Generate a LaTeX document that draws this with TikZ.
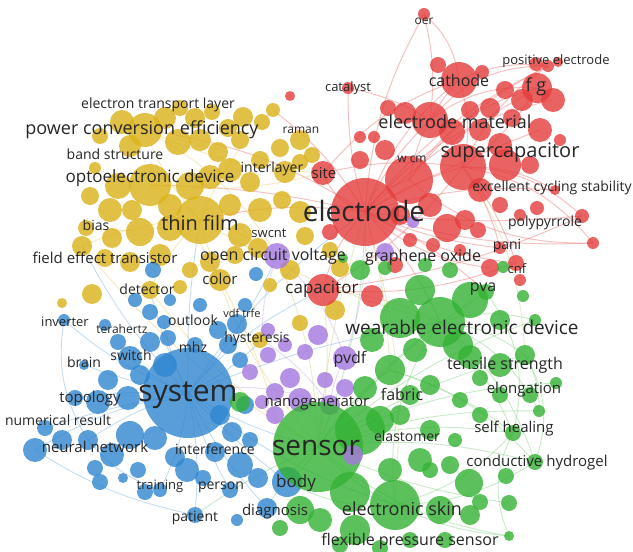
\documentclass[tikz,border=0pt]{standalone}
\usepackage{fontspec}
\setmainfont{Open Sans}
\definecolor{vosred}{HTML}{E43C3C}
\definecolor{vosyellow}{HTML}{DBB31C}
\definecolor{vosblue}{HTML}{2F86D0}
\definecolor{vosgreen}{HTML}{33B233}
\definecolor{vospurple}{HTML}{A67AE0}
\tikzset{
	kw/.style={font=\fontsize{#1}{#1}\selectfont, text=black!85, inner sep=0pt},
	rb/.style={fill=vosred, fill opacity=.8},
	yb/.style={fill=vosyellow, fill opacity=.82},
	bb/.style={fill=vosblue, fill opacity=.8},
	gb/.style={fill=vosgreen, fill opacity=.8},
	pb/.style={fill=vospurple, fill opacity=.82},
	rl/.style={draw=vosred!70, draw opacity=.45, line width=1pt},
	yl/.style={draw=vosyellow!70, draw opacity=.4, line width=.9pt},
	ml/.style={draw=olive!50, draw opacity=.35, line width=.9pt},
	bl/.style={draw=vosblue!70, draw opacity=.4, line width=.9pt},
	gl/.style={draw=vosgreen!60, draw opacity=.45, line width=.9pt},
	pl/.style={draw=vospurple!70, draw opacity=.4, line width=.9pt}
}
\begin{document}
\begin{tikzpicture}[x=1pt, y=-1pt]
	\useasboundingbox (0, 0) rectangle (633, 552);
	% hubs and leaves
	\coordinate (electrode) at (365, 212);
	\coordinate (oer) at (424, 14);
	\coordinate (catalyst) at (348, 88);
	\coordinate (cathode) at (459, 80);
	\coordinate (posel) at (548, 66);
	\coordinate (fg) at (537, 88);
	\coordinate (fg2) at (553, 100);
	\coordinate (elmat) at (430, 120);
	\coordinate (rside) at (540, 130);
	\coordinate (supercap) at (463, 167);
	\coordinate (wcm) at (409, 180);
	\coordinate (ecs) at (555, 190);
	\coordinate (ppy) at (582, 216);
	\coordinate (ppy2) at (593, 243);
	\coordinate (pani) at (500, 248);
	\coordinate (cnf) at (516, 263);
	\coordinate (rlow) at (490, 268);
	\coordinate (capacitor) at (323, 290);
	\coordinate (site) at (323, 173);
	\coordinate (thinfilm) at (200, 220);
	\coordinate (pce) at (145, 130);
	\coordinate (opto) at (150, 185);
	\coordinate (etl) at (273, 110);
	\coordinate (bias) at (86, 228);
	\coordinate (fet) at (82, 246);
	\coordinate (detector) at (150, 290);
	\coordinate (color) at (220, 280);
	\coordinate (ocv) at (277, 256);
	\coordinate (system) at (188, 393);
	\coordinate (inverter) at (64, 320);
	\coordinate (brain) at (84, 365);
	\coordinate (topology) at (75, 398);
	\coordinate (numres) at (35, 450);
	\coordinate (numres2) at (45, 428);
	\coordinate (neural) at (88, 440);
	\coordinate (training) at (160, 490);
	\coordinate (patient) at (195, 515);
	\coordinate (person) at (230, 490);
	\coordinate (diagnosis) at (267, 508);
	\coordinate (body) at (287, 482);
	\coordinate (switch) at (130, 358);
	\coordinate (outlook) at (164, 322);
	\coordinate (sensor) at (318, 447);
	\coordinate (wearable) at (440, 322);
	\coordinate (gside) at (535, 320);
	\coordinate (tensile) at (525, 355);
	\coordinate (elong) at (539, 411);
	\coordinate (elong2) at (556, 383);
	\coordinate (healing) at (513, 433);
	\coordinate (hydrogel) at (535, 462);
	\coordinate (eskin) at (395, 505);
	\coordinate (gend) at (509, 503);
	\coordinate (fps) at (509, 536);
	\coordinate (fabric) at (390, 370);
	\coordinate (pva) at (486, 292);
	\coordinate (pvdf) at (345, 358);
	\coordinate (nanogen) at (330, 405);
	\coordinate (hyst) at (262, 340);
	% links
	\draw[rl] (electrode) to[bend left=12] (oer);
	\draw[rl] (cathode) to[bend right=20] (oer);
	\draw[rl] (elmat) to[bend right=10] (oer);
	\draw[rl] (electrode) to[bend left=8] (catalyst);
	\draw[rl] (catalyst) to[bend left=10] (elmat);
	\draw[rl] (electrode) to[bend left=15] (cathode);
	\draw[rl] (electrode) to[bend left=10] (elmat);
	\draw[rl] (electrode) to[bend left=12] (posel);
	\draw[rl] (electrode) to[bend left=6] (fg);
	\draw[rl] (electrode) to[bend left=18] (fg2);
	\draw[rl] (electrode) to[bend left=4] (rside);
	\draw[rl] (electrode) to[bend left=8] (supercap);
	\draw[rl] (electrode) to[bend left=20] (wcm);
	\draw[rl] (electrode) to[bend left=10] (ecs);
	\draw[rl] (electrode) to[bend right=6] (ppy);
	\draw[rl] (electrode) to[bend right=10] (ppy2);
	\draw[rl] (electrode) to[bend right=8] (pani);
	\draw[rl] (electrode) to[bend right=12] (cnf);
	\draw[rl] (electrode) to[bend right=16] (rlow);
	\draw[rl] (electrode) to[bend right=15] (capacitor);
	\draw[rl] (electrode) to[bend left=25] (site);
	\draw[rl] (electrode) to[bend right=10] (thinfilm);
	\draw[rl] (electrode) to[bend right=12] (pce);
	\draw[rl] (electrode) to[bend right=6] (opto);
	\draw[rl] (electrode) to[bend right=10] (etl);
	\draw[rl] (electrode) to[bend left=10] (wearable);
	\draw[rl] (electrode) to[bend left=8] (pva);
	\draw[rl] (supercap) to[bend left=15] (posel);
	\draw[rl] (supercap) to[bend right=10] (fg);
	\draw[rl] (supercap) to[bend left=20] (ppy);
	\draw[rl] (supercap) to[bend left=15] (ecs);
	\draw[rl] (supercap) to[bend left=10] (cnf);
	\draw[rl] (supercap) to[bend left=20] (ppy2);
	\draw[rl] (supercap) to[bend right=15] (cathode);
	\draw[rl] (supercap) to[bend left=10] (pani);
	\draw[rl] (supercap) to[bend right=20] (elmat);
	\draw[rl] (elmat) to[bend left=20] (fg);
	\draw[rl] (elmat) to[bend left=25] (posel);
	\draw[rl] (cathode) to[bend left=15] (posel);
	\draw[rl] (wcm) to[bend left=20] (fg);
	\draw[rl] (wcm) to[bend left=12] (posel);
	\draw[rl] (wcm) to[bend left=15] (cathode);
	\draw[rl] (wcm) to[bend right=20] (ppy2);
	\draw[rl] (site) to[bend left=10] (supercap);
	\draw[rl] (site) to[bend left=15] (cathode);
	\draw[rl] (capacitor) to[bend right=10] (supercap);
	\draw[rl] (capacitor) to[bend right=8] (ppy);
	\draw[rl] (capacitor) to[bend right=12] (cnf);
	\draw[ml] (electrode) to[bend left=10] (eskin);
	\draw[ml] (electrode) to[bend left=6] (fabric);
	\draw[ml] (electrode) to[bend right=6] (sensor);
	\draw[ml] (thinfilm) to[bend right=8] (wearable);
	\draw[ml] (capacitor) to[bend left=8] (sensor);
	\draw[ml] (capacitor) to[bend left=10] (wearable);
	\draw[ml] (ocv) to[bend left=10] (sensor);
	\draw[ml] (supercap) to[bend left=15] (tensile);
	\draw[yl] (thinfilm) to[bend left=10] (pce);
	\draw[yl] (thinfilm) to[bend right=10] (opto);
	\draw[yl] (thinfilm) to[bend left=10] (etl);
	\draw[yl] (thinfilm) to[bend right=10] (fet);
	\draw[yl] (thinfilm) to[bend left=10] (bias);
	\draw[yl] (thinfilm) to[bend left=10] (ocv);
	\draw[yl] (thinfilm) to[bend right=12] (sensor);
	\draw[yl] (thinfilm) to[bend right=10] (detector);
	\draw[yl] (opto) to[bend left=10] (color);
	\draw[yl] (opto) to[bend right=10] (site);
	\draw[yl] (pce) to[bend left=15] (ocv);
	\draw[yl] (pce) to[bend right=10] (site);
	\draw[yl] (fet) to[bend right=10] (sensor);
	\draw[yl] (color) to[bend left=10] (body);
	\draw[yl] (detector) to[bend right=10] (sensor);
	\draw[bl] (system) to[bend left=10] (inverter);
	\draw[bl] (system) to[bend left=5] (brain);
	\draw[bl] (system) to[bend right=5] (topology);
	\draw[bl] (system) to[bend right=10] (numres);
	\draw[bl] (system) to[bend right=4] (numres2);
	\draw[bl] (system) to[bend right=8] (neural);
	\draw[bl] (system) to[bend left=10] (training);
	\draw[bl] (system) to[bend left=8] (patient);
	\draw[bl] (system) to[bend right=6] (person);
	\draw[bl] (system) to[bend right=8] (diagnosis);
	\draw[bl] (system) to[bend right=4] (body);
	\draw[bl] (system) to[bend left=10] (switch);
	\draw[bl] (system) to[bend left=8] (outlook);
	\draw[bl] (system) to[bend left=6] (detector);
	\draw[bl] (system) to[bend left=5] (thinfilm);
	\draw[bl] (system) to[bend left=8] (fet);
	\draw[bl] (system) to[bend left=10] (electrode);
	\draw[bl] (system) to[bend right=8] (ocv);
	\draw[bl] (system) to[bend right=8] (hyst);
	\draw[bl] (system) to[bend right=8] (sensor);
	\draw[bl] (system) to[bend left=6] (wearable);
	\draw[bl] (system) to[bend left=12] (capacitor);
	\draw[bl] (system) to[bend right=10] (eskin);
	\draw[bl] (inverter) to[bend right=20] (neural);
	\draw[bl] (numres) to[bend right=10] (patient);
	\draw[bl] (neural) to[bend right=15] (training);
	\draw[gl] (sensor) to[bend right=10] (eskin);
	\draw[gl] (sensor) to[bend right=15] (fps);
	\draw[gl] (sensor) to[bend right=8] (gend);
	\draw[gl] (sensor) to[bend left=10] (hydrogel);
	\draw[gl] (sensor) to[bend left=12] (healing);
	\draw[gl] (sensor) to[bend left=10] (elong);
	\draw[gl] (sensor) to[bend left=12] (elong2);
	\draw[gl] (sensor) to[bend left=8] (tensile);
	\draw[gl] (sensor) to[bend left=10] (gside);
	\draw[gl] (sensor) to[bend left=5] (wearable);
	\draw[gl] (sensor) to[bend left=10] (fabric);
	\draw[gl] (sensor) to[bend left=10] (body);
	\draw[gl] (sensor) to[bend left=10] (pva);
	\draw[gl] (sensor) to[bend right=10] (diagnosis);
	\draw[gl] (sensor) to[bend right=6] (patient);
	\draw[gl] (sensor) to[bend right=10] (electrode);
	\draw[gl] (wearable) to[bend left=15] (tensile);
	\draw[gl] (wearable) to[bend left=20] (elong);
	\draw[gl] (wearable) to[bend left=10] (healing);
	\draw[gl] (wearable) to[bend left=15] (hydrogel);
	\draw[gl] (wearable) to[bend left=15] (gside);
	\draw[gl] (wearable) to[bend right=20] (eskin);
	\draw[gl] (tensile) to[bend left=25] (hydrogel);
	\draw[gl] (tensile) to[bend left=15] (elong);
	\draw[gl] (healing) to[bend right=25] (fps);
	\draw[gl] (hydrogel) to[bend left=15] (eskin);
	\draw[gl] (eskin) to[bend right=15] (healing);
	\draw[gl] (eskin) to[bend right=10] (fps);
	\draw[gl] (body) to[bend right=15] (eskin);
	\draw[gl] (fabric) to[bend left=10] (healing);
	\draw[gl] (fabric) to[bend left=15] (hydrogel);
	\draw[gl] (pva) to[bend left=25] (healing);
	\draw[pl] (nanogen) to[bend left=10] (pvdf);
	\draw[pl] (nanogen) to[bend right=10] (hyst);
	\draw[pl] (pvdf) to[bend right=15] (ocv);
	\draw[pl] (nanogen) to[bend right=15] (system);
	\draw[pl] (pvdf) to[bend right=10] (electrode);
	\draw[pl] (hyst) to[bend left=10] (ocv);
	% yellow bubbles
	\fill[yb] (273, 110) circle[radius=7];
	\fill[yb] (262, 122) circle[radius=8];
	\fill[yb] (243, 117) circle[radius=10];
	\fill[yb] (228, 128) circle[radius=9];
	\fill[yb] (212, 112) circle[radius=8];
	\fill[yb] (195, 118) circle[radius=10];
	\fill[yb] (180, 108) circle[radius=8];
	\fill[yb] (165, 118) circle[radius=11];
	\fill[yb] (145, 130) circle[radius=17];
	\fill[yb] (122, 122) circle[radius=12];
	\fill[yb] (130, 146) circle[radius=11];
	\fill[yb] (100, 136) circle[radius=8];
	\fill[yb] (178, 142) circle[radius=13];
	\fill[yb] (200, 140) circle[radius=11];
	\fill[yb] (218, 152) circle[radius=10];
	\fill[yb] (240, 140) circle[radius=9];
	\fill[yb] (280, 148) circle[radius=9];
	\fill[yb] (300, 140) circle[radius=10];
	\fill[yb] (312, 155) circle[radius=8];
	\fill[yb] (285, 172) circle[radius=11];
	\fill[yb] (300, 162) circle[radius=8];
	\fill[yb] (260, 160) circle[radius=9];
	\fill[yb] (250, 182) circle[radius=10];
	\fill[yb] (230, 170) circle[radius=12];
	\fill[yb] (210, 177) circle[radius=12];
	\fill[yb] (190, 186) circle[radius=14];
	\fill[yb] (150, 185) circle[radius=21];
	\fill[yb] (118, 186) circle[radius=13];
	\fill[yb] (95, 168) circle[radius=6];
	\fill[yb] (90, 196) circle[radius=9];
	\fill[yb] (110, 210) circle[radius=12];
	\fill[yb] (132, 210) circle[radius=10];
	\fill[yb] (170, 206) circle[radius=12];
	\fill[yb] (200, 220) circle[radius=24];
	\fill[yb] (170, 228) circle[radius=13];
	\fill[yb] (140, 232) circle[radius=14];
	\fill[yb] (112, 238) circle[radius=10];
	\fill[yb] (86, 228) circle[radius=8];
	\fill[yb] (82, 246) circle[radius=10];
	\fill[yb] (105, 258) circle[radius=9];
	\fill[yb] (130, 262) circle[radius=10];
	\fill[yb] (160, 255) circle[radius=11];
	\fill[yb] (230, 205) circle[radius=11];
	\fill[yb] (260, 210) circle[radius=12];
	\fill[yb] (282, 200) circle[radius=9];
	\fill[yb] (300, 212) circle[radius=11];
	\fill[yb] (305, 236) circle[radius=9];
	\fill[yb] (240, 235) circle[radius=12];
	\fill[yb] (235, 255) circle[radius=9];
	\fill[yb] (258, 248) circle[radius=10];
	\fill[yb] (210, 262) circle[radius=10];
	\fill[yb] (220, 280) circle[radius=11];
	\fill[yb] (190, 270) circle[radius=8];
	\fill[yb] (180, 287) circle[radius=7];
	\fill[yb] (150, 290) circle[radius=9];
	\fill[yb] (92, 294) circle[radius=10];
	\fill[yb] (62, 303) circle[radius=5];
	\fill[yb] (290, 270) circle[radius=10];
	\fill[yb] (330, 250) circle[radius=8];
	\fill[yb] (340, 268) circle[radius=9];
	\fill[yb] (335, 310) circle[radius=10];
	\fill[yb] (300, 323) circle[radius=8];
	\fill[yb] (260, 340) circle[radius=8];
	\fill[yb] (270, 285) circle[radius=7];
	% red bubbles
	\fill[rb] (424, 14) circle[radius=6];
	\fill[rb] (348, 88) circle[radius=6];
	\fill[rb] (290, 96) circle[radius=5];
	\fill[rb] (360, 137) circle[radius=6];
	\fill[rb] (374, 137) circle[radius=6];
	\fill[rb] (438, 65) circle[radius=8];
	\fill[rb] (459, 80) circle[radius=18];
	\fill[rb] (482, 72) circle[radius=7];
	\fill[rb] (536, 64) circle[radius=7];
	\fill[rb] (548, 66) circle[radius=6];
	\fill[rb] (558, 62) circle[radius=5];
	\fill[rb] (505, 90) circle[radius=9];
	\fill[rb] (522, 100) circle[radius=11];
	\fill[rb] (537, 88) circle[radius=15];
	\fill[rb] (553, 100) circle[radius=12];
	\fill[rb] (490, 108) circle[radius=10];
	\fill[rb] (512, 118) circle[radius=9];
	\fill[rb] (470, 110) circle[radius=9];
	\fill[rb] (430, 120) circle[radius=18];
	\fill[rb] (405, 113) circle[radius=11];
	\fill[rb] (388, 108) circle[radius=8];
	\fill[rb] (452, 132) circle[radius=13];
	\fill[rb] (480, 130) circle[radius=11];
	\fill[rb] (540, 130) circle[radius=12];
	\fill[rb] (560, 140) circle[radius=6];
	\fill[rb] (500, 145) circle[radius=12];
	\fill[rb] (463, 167) circle[radius=23];
	\fill[rb] (505, 165) circle[radius=16];
	\fill[rb] (530, 165) circle[radius=9];
	\fill[rb] (480, 190) circle[radius=12];
	\fill[rb] (409, 180) circle[radius=24];
	\fill[rb] (430, 205) circle[radius=12];
	\fill[rb] (447, 228) circle[radius=14];
	\fill[rb] (465, 220) circle[radius=10];
	\fill[rb] (400, 215) circle[radius=10];
	\fill[rb] (433, 245) circle[radius=7];
	\fill[rb] (500, 205) circle[radius=8];
	\fill[rb] (520, 215) circle[radius=6];
	\fill[rb] (555, 190) circle[radius=5];
	\fill[rb] (537, 208) circle[radius=7];
	\fill[rb] (582, 216) circle[radius=7];
	\fill[rb] (593, 243) circle[radius=6];
	\fill[rb] (500, 248) circle[radius=6];
	\fill[rb] (516, 263) circle[radius=8];
	\fill[rb] (490, 268) circle[radius=9];
	\fill[rb] (520, 280) circle[radius=6];
	\fill[rb] (385, 150) circle[radius=10];
	\fill[rb] (360, 160) circle[radius=9];
	\fill[rb] (323, 173) circle[radius=12];
	\fill[rb] (365, 212) circle[radius=34];
	\fill[rb] (372, 296) circle[radius=11];
	\fill[rb] (323, 290) circle[radius=16];
	\fill[rb] (395, 265) circle[radius=8];
	\fill[rb] (410, 240) circle[radius=7];
	\fill[rb] (330, 232) circle[radius=8];
	\fill[rb] (460, 250) circle[radius=6];
	\fill[rb] (478, 230) circle[radius=8];
	% purple bubbles
	\fill[pb] (277, 256) circle[radius=13];
	\fill[pb] (385, 252) circle[radius=9];
	\fill[pb] (413, 222) circle[radius=6];
	\fill[pb] (318, 335) circle[radius=10];
	\fill[pb] (305, 352) circle[radius=8];
	\fill[pb] (345, 358) circle[radius=12];
	\fill[pb] (290, 378) circle[radius=10];
	\fill[pb] (300, 400) circle[radius=12];
	\fill[pb] (275, 392) circle[radius=9];
	\fill[pb] (268, 355) circle[radius=8];
	\fill[pb] (268, 330) circle[radius=7];
	\fill[pb] (330, 405) circle[radius=10];
	\fill[pb] (345, 388) circle[radius=9];
	\fill[pb] (325, 380) circle[radius=8];
	\fill[pb] (275, 415) circle[radius=9];
	\fill[pb] (262, 402) circle[radius=7];
	\fill[pb] (250, 372) circle[radius=8];
	\fill[pb] (285, 345) circle[radius=7];
	% blue bubbles
	\fill[bb] (188, 393) circle[radius=45];
	\fill[bb] (153, 270) circle[radius=8];
	\fill[bb] (256, 274) circle[radius=7];
	\fill[bb] (135, 300) circle[radius=7];
	\fill[bb] (150, 312) circle[radius=8];
	\fill[bb] (164, 322) circle[radius=7];
	\fill[bb] (170, 300) circle[radius=6];
	\fill[bb] (200, 305) circle[radius=7];
	\fill[bb] (64, 320) circle[radius=6];
	\fill[bb] (105, 325) circle[radius=6];
	\fill[bb] (118, 342) circle[radius=8];
	\fill[bb] (130, 358) circle[radius=12];
	\fill[bb] (150, 342) circle[radius=10];
	\fill[bb] (168, 338) circle[radius=8];
	\fill[bb] (195, 345) circle[radius=8];
	\fill[bb] (218, 330) circle[radius=9];
	\fill[bb] (237, 324) circle[radius=10];
	\fill[bb] (245, 305) circle[radius=7];
	\fill[bb] (228, 345) circle[radius=9];
	\fill[bb] (84, 365) circle[radius=5];
	\fill[bb] (108, 380) circle[radius=10];
	\fill[bb] (98, 402) circle[radius=12];
	\fill[bb] (128, 398) circle[radius=12];
	\fill[bb] (140, 375) circle[radius=10];
	\fill[bb] (75, 398) circle[radius=8];
	\fill[bb] (45, 428) circle[radius=8];
	\fill[bb] (62, 440) circle[radius=10];
	\fill[bb] (35, 450) circle[radius=12];
	\fill[bb] (88, 440) circle[radius=10];
	\fill[bb] (112, 455) circle[radius=12];
	\fill[bb] (130, 435) circle[radius=14];
	\fill[bb] (95, 468) circle[radius=8];
	\fill[bb] (100, 482) circle[radius=8];
	\fill[bb] (123, 478) circle[radius=5];
	\fill[bb] (138, 470) circle[radius=8];
	\fill[bb] (145, 492) circle[radius=8];
	\fill[bb] (175, 457) circle[radius=10];
	\fill[bb] (187, 470) circle[radius=12];
	\fill[bb] (203, 478) circle[radius=8];
	\fill[bb] (215, 452) circle[radius=10];
	\fill[bb] (240, 465) circle[radius=13];
	\fill[bb] (258, 478) circle[radius=10];
	\fill[bb] (230, 490) circle[radius=8];
	\fill[bb] (160, 490) circle[radius=7];
	\fill[bb] (195, 515) circle[radius=8];
	\fill[bb] (237, 520) circle[radius=6];
	\fill[bb] (287, 482) circle[radius=15];
	\fill[bb] (267, 508) circle[radius=10];
	\fill[bb] (232, 432) circle[radius=10];
	\fill[bb] (245, 405) circle[radius=9];
	\fill[bb] (155, 438) circle[radius=12];
	\fill[bb] (220, 415) circle[radius=10];
	\fill[bb] (165, 365) circle[radius=12];
	\fill[bb] (240, 360) circle[radius=8];
	\fill[bb] (250, 440) circle[radius=8];
	% green bubbles
	\fill[gb] (318, 447) circle[radius=45];
	\fill[gb] (360, 430) circle[radius=25];
	\fill[gb] (440, 322) circle[radius=25];
	\fill[gb] (400, 318) circle[radius=20];
	\fill[gb] (470, 300) circle[radius=18];
	\fill[gb] (420, 290) circle[radius=15];
	\fill[gb] (458, 345) circle[radius=15];
	\fill[gb] (360, 270) circle[radius=10];
	\fill[gb] (343, 258) circle[radius=5];
	\fill[gb] (385, 268) circle[radius=7];
	\fill[gb] (425, 265) circle[radius=7];
	\fill[gb] (450, 270) circle[radius=8];
	\fill[gb] (486, 292) circle[radius=8];
	\fill[gb] (503, 267) circle[radius=6];
	\fill[gb] (523, 296) circle[radius=6];
	\fill[gb] (535, 320) circle[radius=6];
	\fill[gb] (500, 320) circle[radius=10];
	\fill[gb] (372, 340) circle[radius=12];
	\fill[gb] (415, 350) circle[radius=12];
	\fill[gb] (470, 357) circle[radius=12];
	\fill[gb] (500, 365) circle[radius=12];
	\fill[gb] (525, 355) circle[radius=10];
	\fill[gb] (556, 383) circle[radius=6];
	\fill[gb] (480, 378) circle[radius=8];
	\fill[gb] (500, 395) circle[radius=8];
	\fill[gb] (530, 395) circle[radius=8];
	\fill[gb] (539, 411) circle[radius=6];
	\fill[gb] (390, 370) circle[radius=15];
	\fill[gb] (365, 388) circle[radius=12];
	\fill[gb] (410, 395) circle[radius=10];
	\fill[gb] (400, 415) circle[radius=10];
	\fill[gb] (430, 385) circle[radius=10];
	\fill[gb] (460, 400) circle[radius=8];
	\fill[gb] (380, 420) circle[radius=14];
	\fill[gb] (430, 430) circle[radius=10];
	\fill[gb] (455, 440) circle[radius=7];
	\fill[gb] (480, 415) circle[radius=8];
	\fill[gb] (513, 433) circle[radius=8];
	\fill[gb] (535, 462) circle[radius=8];
	\fill[gb] (506, 476) circle[radius=8];
	\fill[gb] (469, 483) circle[radius=14];
	\fill[gb] (480, 502) circle[radius=8];
	\fill[gb] (420, 460) circle[radius=12];
	\fill[gb] (390, 470) circle[radius=12];
	\fill[gb] (450, 465) circle[radius=9];
	\fill[gb] (430, 470) circle[radius=8];
	\fill[gb] (395, 505) circle[radius=25];
	\fill[gb] (350, 492) circle[radius=20];
	\fill[gb] (440, 510) circle[radius=14];
	\fill[gb] (470, 515) circle[radius=10];
	\fill[gb] (509, 503) circle[radius=8];
	\fill[gb] (355, 530) circle[radius=15];
	\fill[gb] (320, 520) circle[radius=12];
	\fill[gb] (300, 510) circle[radius=14];
	\fill[gb] (280, 528) circle[radius=8];
	\fill[gb] (340, 545) circle[radius=8];
	\fill[gb] (380, 548) circle[radius=8];
	\fill[gb] (410, 540) circle[radius=8];
	\fill[gb] (445, 540) circle[radius=8];
	\fill[gb] (509, 536) circle[radius=5];
	\fill[gb] (240, 402) circle[radius=10];
	\fill[pb] (353, 455) circle[radius=10];
	% labels
	\node[kw=12] (txt-oer) at (424, 21) {oer};
	\node[kw=13] (txt-posel) at (556, 61) {positive electrode};
	\node[kw=16] (txt-cathode) at (459, 80) {cathode};
	\node[kw=18] (txt-fg) at (536, 87) {f g};
	\node[kw=13] (txt-catalyst) at (348, 88) {catalyst};
	\node[kw=14] (txt-etl) at (158, 105) {electron transport layer};
	\node[kw=12] (txt-raman) at (301, 130) {raman};
	\node[kw=18] (txt-pce) at (142, 130) {power conversion efficiency};
	\node[kw=18] (txt-elmat) at (455, 122) {electrode material};
	\node[kw=20] (txt-supercap) at (510, 153) {supercapacitor};
	\node[kw=14] (txt-band) at (115, 154) {band structure};
	\node[kw=12] (txt-wcm) at (412, 159) {w cm};
	\node[kw=17] (txt-opto) at (150, 178) {optoelectronic device};
	\node[kw=14] (txt-interlayer) at (272, 169) {interlayer};
	\node[kw=15] (txt-site) at (324, 173) {site};
	\node[kw=14] (txt-ecs) at (552, 188) {excellent cycling stability};
	\node[kw=28] (txt-electrode) at (364, 211) {electrode};
	\node[kw=20] (txt-thinfilm) at (200, 223) {thin film};
	\node[kw=14] (txt-bias) at (96, 225) {bias};
	\node[kw=14] (txt-ppy) at (545, 223) {polypyrrole};
	\node[kw=13] (txt-swcnt) at (269, 233) {swcnt};
	\node[kw=14] (txt-pani) at (507, 246) {pani};
	\node[kw=15] (txt-fet) at (105, 258) {field effect transistor};
	\node[kw=16] (txt-ocv) at (273, 256) {open circuit voltage};
	\node[kw=16] (txt-go) at (423, 257) {graphene oxide};
	\node[kw=13] (txt-cnf) at (517, 269) {cnf};
	\node[kw=14] (txt-detector) at (147, 289) {detector};
	\node[kw=15] (txt-color) at (220, 279) {color};
	\node[kw=17] (txt-capacitor) at (322, 289) {capacitor};
	\node[kw=16] (txt-pva) at (483, 289) {pva};
	\node[kw=13] (txt-inverter) at (65, 322) {inverter};
	\node[kw=12] (txt-thz) at (122, 329) {terahertz};
	\node[kw=14] (txt-outlook) at (193, 320) {outlook};
	\node[kw=11] (txt-vdf) at (242, 313) {vdf trfe};
	\node[kw=19] (txt-wearable) at (462, 327) {wearable electronic device};
	\node[kw=14] (txt-hyst) at (257, 339) {hysteresis};
	\node[kw=14] (txt-mhz) at (193, 347) {mhz};
	\node[kw=14] (txt-switch) at (131, 355) {switch};
	\node[kw=14] (txt-brain) at (84, 362) {brain};
	\node[kw=16] (txt-pvdf) at (350, 359) {pvdf};
	\node[kw=16] (txt-tensile) at (505, 365) {tensile strength};
	\node[kw=30] (txt-system) at (188, 395) {system};
	\node[kw=15] (txt-topology) at (90, 399) {topology};
	\node[kw=15] (txt-elong) at (524, 390) {elongation};
	\node[kw=15] (txt-nanogen) at (317, 403) {nanogenerator};
	\node[kw=16] (txt-fabric) at (402, 394) {fabric};
	\node[kw=14] (txt-numres) at (58, 420) {numerical result};
	\node[kw=28] (txt-sensor) at (316, 448) {sensor};
	\node[kw=14] (txt-elastomer) at (407, 436) {elastomer};
	\node[kw=15] (txt-healing) at (514, 429) {self healing};
	\node[kw=15] (txt-neural) at (95, 447) {neural network};
	\node[kw=14] (txt-interf) at (215, 449) {interference};
	\node[kw=15] (txt-hydrogel) at (537, 463) {conductive hydrogel};
	\node[kw=13] (txt-training) at (160, 486) {training};
	\node[kw=14] (txt-person) at (221, 487) {person};
	\node[kw=17] (txt-body) at (296, 483) {body};
	\node[kw=18] (txt-eskin) at (402, 509) {electronic skin};
	\node[kw=14] (txt-patient) at (195, 518) {patient};
	\node[kw=15] (txt-diagnosis) at (275, 512) {diagnosis};
	\node[kw=16] (txt-fps) at (410, 541) {flexible pressure sensor};
\end{tikzpicture}
\end{document}
